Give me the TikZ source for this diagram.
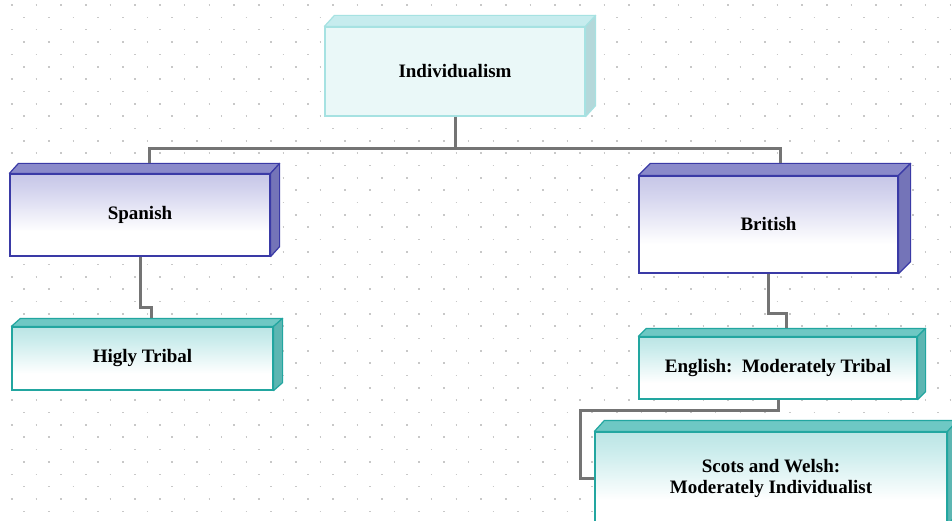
\documentclass[tikz,border=0pt]{standalone}
\usepackage{fontspec}
\setmainfont{Liberation Serif}
\usetikzlibrary{calc}

% palette
\definecolor{gridDot}{HTML}{C8C8C8}
\definecolor{connGray}{HTML}{747474}
\definecolor{paleLine}{HTML}{A6E2E2}
\definecolor{paleFace}{HTML}{EAF8F8}
\definecolor{paleTop}{HTML}{C6ECEE}
\definecolor{paleSide}{HTML}{B4D8DA}
\definecolor{navyLine}{HTML}{3A3AA6}
\definecolor{navyTint}{HTML}{A4A4D6}
\definecolor{navyMid}{HTML}{D4D4EE}
\definecolor{navyTop}{HTML}{8A8ACA}
\definecolor{navySide}{HTML}{7474B8}
\definecolor{aquaLine}{HTML}{22A6A0}
\definecolor{aquaTint}{HTML}{96D2D2}
\definecolor{aquaMid}{HTML}{CAECEC}
\definecolor{aquaTop}{HTML}{6EC8C4}
\definecolor{aquaSide}{HTML}{5CB6B2}

% front faces fade from a tint at the top to white below the middle
\pgfdeclareverticalshading{navyfade}{100bp}{color(0bp)=(white); color(40bp)=(white); color(65bp)=(navyMid); color(100bp)=(navyTint)}
\pgfdeclareverticalshading{aquafade}{100bp}{color(0bp)=(white); color(38bp)=(white); color(65bp)=(aquaMid); color(100bp)=(aquaTint)}

\tikzset{
  label font/.style={font=\fontsize{19}{21}\selectfont\bfseries, align=center},
  pale front/.style={label font, draw=paleLine, line width=1.2pt, fill=paleFace, inner sep=0pt},
  pale top/.style={draw=paleLine, line width=1.2pt, fill=paleTop, line join=round},
  pale side/.style={draw=paleLine, line width=1.2pt, fill=paleSide, line join=round},
  navy front/.style={label font, draw=navyLine, line width=1.2pt, shading=navyfade, inner sep=0pt},
  navy top/.style={draw=navyLine, line width=1.2pt, fill=navyTop, line join=round},
  navy side/.style={draw=navyLine, line width=1.2pt, fill=navySide, line join=round},
  aqua front/.style={label font, draw=aquaLine, line width=1.2pt, shading=aquafade, inner sep=0pt},
  aqua top/.style={draw=aquaLine, line width=1.2pt, fill=aquaTop, line join=round},
  aqua side/.style={draw=aquaLine, line width=1.2pt, fill=aquaSide, line join=round},
  conn/.style={draw=connGray, line width=3pt, line join=miter},
  griddot/.style={draw=gridDot, line width=1.6pt, dash pattern=on 1.6pt off 23.1pt},
}

% a box with a raised top and right face
% #1 name, #2 centre, #3 width, #4 height, #5 depth x, #6 depth y, #7 kind, #8 text
\newcommand\solidbox[8]{%
  \node[#7 front, minimum width=#3, minimum height=#4] (#1) at (#2) {#8};
  \path[#7 top] (#1.north west) -- ++(#5,-#6) -- ([shift={(#5,-#6)}]#1.north east)
     -- (#1.north east) -- cycle;
  \path[#7 side] (#1.north east) -- ++(#5,-#6) -- ([shift={(#5,-#6)}]#1.south east)
     -- (#1.south east) -- cycle;
  \coordinate (#1-back) at ([shift={(#5,-#6)}]#1.north);
}

\begin{document}
\begin{tikzpicture}[x=1pt, y=-1pt]
  \useasboundingbox (0,0) rectangle (952,521);
  \clip (0,0) rectangle (952,521);
  \fill[white] (0,0) rectangle (952,521);

  % staggered dot grid
  \foreach \r in {0,...,42} {
    \pgfmathsetmacro\yy{5+12.35*\r}
    \pgfmathsetmacro\xx{mod(\r,2)==0 ? 10.9 : -1.45}
    \draw[griddot] (\xx,\yy) -- (960,\yy);
  }

  % boxes
  \solidbox{indiv}{455,71.5}{260}{89}{10}{11}{pale}{Individualism}
  \solidbox{spanish}{140,215}{260}{82}{9}{10}{navy}{Spanish}
  \solidbox{tribal}{142.5,358.5}{261}{63}{9}{8}{aqua}{Higly Tribal}
  \solidbox{british}{768.5,224.5}{259}{97}{12}{12}{navy}{British}
  \solidbox{english}{778,368}{278}{62}{8}{8}{aqua}{English:\ \ Moderately Tribal}
  \solidbox{scots}{771,478}{352}{92}{10}{11}{aqua}{Scots and Welsh:\\Moderately Individualist}

  % connectors
  \coordinate (busY) at (0,149);
  \draw[conn] (indiv.south) -- (indiv.south |- busY);
  \draw[conn] (spanish-back) -- (spanish-back |- busY) -- (british-back |- busY) -- (british-back);

  \coordinate (jogA) at (0,307);
  \draw[conn] (spanish.south) -- (spanish.south |- jogA) -- (tribal-back |- jogA) -- (tribal-back);

  \coordinate (jogB) at (0,313);
  \draw[conn] (british.south) -- (british.south |- jogB) -- (english-back |- jogB) -- (english-back);

  \coordinate (jogC) at (580,410);
  \draw[conn] (english.south) -- (english.south |- jogC) -- (jogC) -- (jogC |- scots.west) -- (scots.west);
\end{tikzpicture}
\end{document}
